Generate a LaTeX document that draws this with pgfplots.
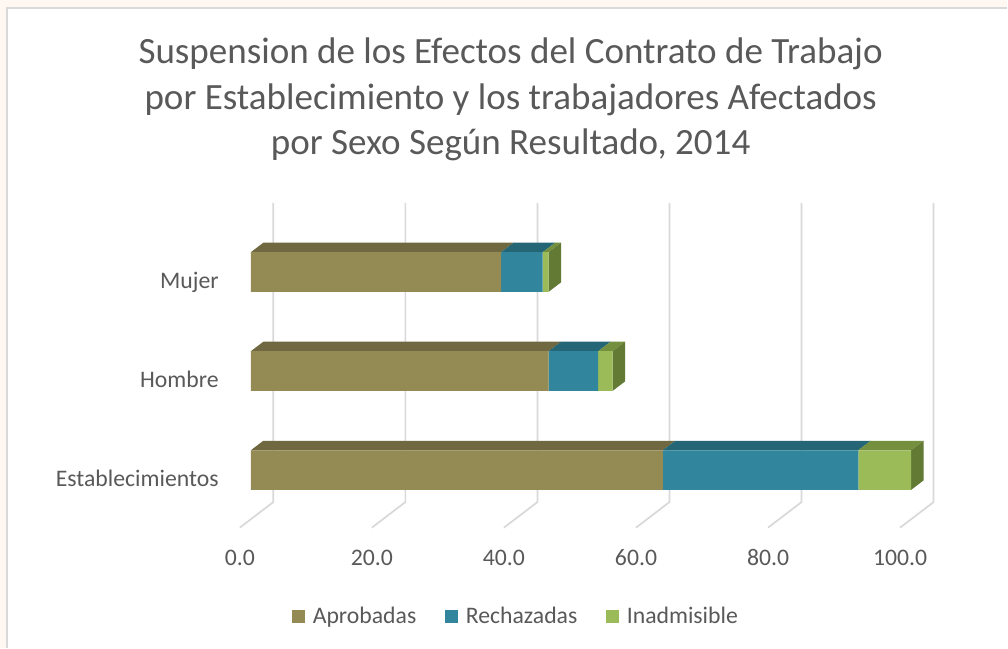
\documentclass[border=0pt]{standalone}
\usepackage{fontspec}
\setmainfont{Carlito}
\usepackage{pgfplots}
\pgfplotsset{compat=1.18}
\definecolor{txt}{HTML}{595959}
\definecolor{aprob}{HTML}{948A54}
\definecolor{rech}{HTML}{31859C}
\definecolor{inad}{HTML}{9BBB59}
\definecolor{aprobT}{HTML}{6F6841}
\definecolor{rechT}{HTML}{246675}
\definecolor{inadT}{HTML}{74903F}
\definecolor{inadS}{HTML}{637A35}
\definecolor{gridc}{HTML}{D9D9D9}
\definecolor{bg}{HTML}{FFF8F2}
\pgfplotsset{
  geom/.style={at={(188.25pt,96.04pt)}, anchor=south west, scale only axis,
    width=495.53pt, height=222.98pt, xmin=0, xmax=100, ymin=-0.5, ymax=2.5,
    axis line style={draw=none}, tick style={draw=none}},
  legsq/.style={legend image code/.code={\fill[##1] (0pt,-4.95pt) rectangle (9.9pt,4.95pt);}},
}
\begin{document}
\begin{tikzpicture}
\fill[bg] (0,0) rectangle (756pt,486pt);
\fill[white] (5.25pt,0) rectangle (756pt,480pt);
\draw[gridc, line width=1pt] (5.25pt,0) -- (5.25pt,480pt) -- (756pt,480pt);
% title
\begin{scope}[every node/.style={text=txt, font=\fontsize{27.8}{34}\selectfont, anchor=base, inner sep=0pt}]
\node at (383.25pt,438.0pt) {Suspension de los Efectos del Contrato de Trabajo};
\node at (383.25pt,403.9pt) {por Establecimiento y los trabajadores Afectados};
\node at (383.25pt,369.8pt) {por Sexo Según Resultado, 2014};
\end{scope}
% gridlines and 3D faces
\begin{axis}[geom, clip=false, xtick=\empty, ytick=\empty]
\addplot[gridc, line width=1.3pt] coordinates {(-1.665,-0.581) (3.405,-0.323) (3.405,2.698)};
\addplot[gridc, line width=1.3pt] coordinates {(18.335,-0.581) (23.405,-0.323) (23.405,2.698)};
\addplot[gridc, line width=1.3pt] coordinates {(38.335,-0.581) (43.405,-0.323) (43.405,2.698)};
\addplot[gridc, line width=1.3pt] coordinates {(58.335,-0.581) (63.405,-0.323) (63.405,2.698)};
\addplot[gridc, line width=1.3pt] coordinates {(78.335,-0.581) (83.405,-0.323) (83.405,2.698)};
\addplot[gridc, line width=1.3pt] coordinates {(98.335,-0.581) (103.405,-0.323) (103.405,2.698)};
% Establecimientos
\addplot[fill=aprobT, draw=none] coordinates {(0,0.2) (1.89,0.296) (64.29,0.296) (62.4,0.2)} -- cycle;
\addplot[fill=rechT, draw=none] coordinates {(62.4,0.2) (64.29,0.296) (93.89,0.296) (92.0,0.2)} -- cycle;
\addplot[fill=inadT, draw=none] coordinates {(92.0,0.2) (93.89,0.296) (101.89,0.296) (100,0.2)} -- cycle;
\addplot[fill=inadS, draw=none] coordinates {(100,0.2) (101.89,0.296) (101.89,-0.104) (100,-0.2)} -- cycle;
% Hombre
\addplot[fill=aprobT, draw=none] coordinates {(0,1.2) (1.89,1.296) (46.99,1.296) (45.1,1.2)} -- cycle;
\addplot[fill=rechT, draw=none] coordinates {(45.1,1.2) (46.99,1.296) (54.49,1.296) (52.6,1.2)} -- cycle;
\addplot[fill=inadT, draw=none] coordinates {(52.6,1.2) (54.49,1.296) (56.69,1.296) (54.8,1.2)} -- cycle;
\addplot[fill=inadS, draw=none] coordinates {(54.8,1.2) (56.69,1.296) (56.69,0.896) (54.8,0.8)} -- cycle;
% Mujer
\addplot[fill=aprobT, draw=none] coordinates {(0,2.2) (1.89,2.296) (39.79,2.296) (37.9,2.2)} -- cycle;
\addplot[fill=rechT, draw=none] coordinates {(37.9,2.2) (39.79,2.296) (46.09,2.296) (44.2,2.2)} -- cycle;
\addplot[fill=inadT, draw=none] coordinates {(44.2,2.2) (46.09,2.296) (46.99,2.296) (45.1,2.2)} -- cycle;
\addplot[fill=inadS, draw=none] coordinates {(45.1,2.2) (46.99,2.296) (46.99,1.896) (45.1,1.8)} -- cycle;
\end{axis}
% front faces
\begin{axis}[geom, clip=false,
  xbar stacked, bar width=0.4,
  ytick={0,1,2}, yticklabels={Establecimientos,Hombre,Mujer},
  xtick={0,20,...,100},
  /pgf/number format/assume math mode=true,
  xticklabel={\pgfmathprintnumber[fixed,fixed zerofill,precision=1]{\tick}},
  tick label style={font=\fontsize{17.8}{21}\selectfont, text=txt, inner sep=0pt},
  yticklabel style={anchor=east, xshift=-24pt, yshift=-6.45pt, text height=11.46pt, text depth=0pt},
  xticklabel style={anchor=center, xshift=-8.25pt, yshift=-28.5pt, text height=11.3pt, text depth=0pt},
  legend style={at={(0.402,-0.326)}, anchor=center, draw=none, fill=none,
    legend columns=3, font=\fontsize{17.8}{21}\selectfont, text=txt,
    /tikz/every odd column/.append style={column sep=3.75pt},
    /tikz/every even column/.append style={column sep=19.5pt}},
]
\addplot[fill=aprob, draw=none, legsq] coordinates {(62.4,0) (45.1,1) (37.9,2)};
\addplot[fill=rech, draw=none, legsq] coordinates {(29.6,0) (7.5,1) (6.3,2)};
\addplot[fill=inad, draw=none, legsq] coordinates {(8.0,0) (2.2,1) (0.9,2)};
\legend{Aprobadas,Rechazadas,Inadmisible}
\end{axis}
\end{tikzpicture}
\end{document}
